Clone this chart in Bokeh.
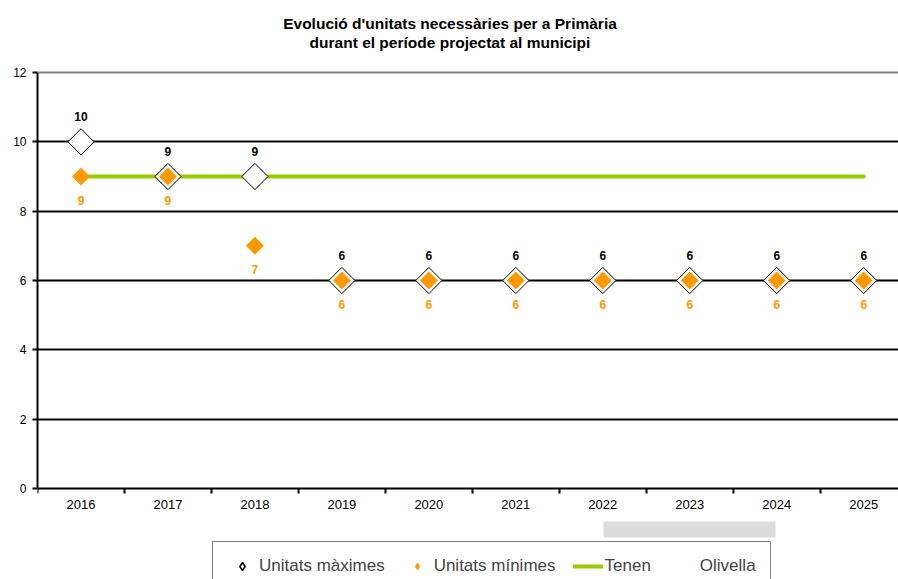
import numpy as np
from bokeh.plotting import figure
from bokeh.models import (Range1d, FixedTicker, Span, Legend, LegendItem, Label,
                          BoxAnnotation)
from bokeh.embed import file_html
from bokeh.resources import INLINE
from bokeh.core.properties import value

# ---- data ----
years = ["2016", "2017", "2018", "2019", "2020", "2021", "2022", "2023", "2024", "2025"]
max_units = [10, 9, 9, 6, 6, 6, 6, 6, 6, 6]
min_units = [9, 9, 7, 6, 6, 6, 6, 6, 6, 6]
tenen = [9, 9, 9, 9, 9, 9, 9, 9, 9, 9]
olivella = []
y_ticks = [0, 2, 4, 6, 8, 10, 12]
title_lines = ["Evolució d'unitats necessàries per a Primària",
               "durant el període projectat al municipi"]

FONT = "Liberation Sans"
ORANGE = "#ff9900"
GREEN = "#99cc00"
xs = list(range(len(years)))

# frame fills the canvas right of the y axis; the value axis spans 0..12 only
p = figure(width=898, height=579, output_backend="svg", toolbar_location=None,
           x_range=Range1d(-0.5, len(years) - 0.6),
           y_range=Range1d(-2.625, 14.077),
           min_border_left=37, min_border_right=0, min_border_top=0,
           min_border_bottom=0)
p.outline_line_color = None
p.background_fill_color = "white"
p.border_fill_color = "white"

# x axis at y = 0: labels at category centres, ticks at category boundaries
xa = p.xaxis[0]
xa.fixed_location = 0
xa.ticker = FixedTicker(ticks=xs, minor_ticks=[i - 0.5 for i in range(len(years) + 1)])
xa.major_label_overrides = {i: y for i, y in enumerate(years)}
xa.major_tick_out = 0
xa.major_tick_in = 0
xa.minor_tick_out = 5
xa.minor_tick_in = 0
xa.minor_tick_line_color = "black"
xa.minor_tick_line_width = 2
xa.axis_line_color = "black"
xa.axis_line_width = 2
xa.major_label_text_font = FONT
xa.major_label_text_font_size = "13px"
xa.major_label_text_color = "black"
xa.major_label_standoff = 6

ya = p.yaxis[0]
ya.bounds = (y_ticks[0], y_ticks[-1])
ya.ticker = FixedTicker(ticks=y_ticks)
ya.major_tick_out = 5
ya.major_tick_in = 0
ya.major_tick_line_color = "black"
ya.major_tick_line_width = 2
ya.minor_tick_out = 0
ya.minor_tick_in = 0
ya.axis_line_color = "black"
ya.axis_line_width = 2
ya.major_label_text_font = FONT
ya.major_label_text_font_size = "12px"
ya.major_label_text_color = "black"
ya.major_label_standoff = 6

p.xgrid.visible = False
p.ygrid.ticker = FixedTicker(ticks=y_ticks[1:-1])
p.ygrid.grid_line_color = "black"
p.ygrid.grid_line_width = 2
p.add_layout(Span(location=y_ticks[-1], dimension="width", line_color="#808080",
                  line_width=2))

# series
r_tenen = p.line(xs, tenen, line_color=GREEN, line_width=4, line_cap="round")
r_oli = p.line(olivella, olivella, line_alpha=0)
# legend glyph renderers (hidden beneath the main markers)
r_max_leg = p.scatter(xs, max_units, marker="diamond", size=1, fill_color="white",
                      line_color="black", line_width=1.5)
r_min_leg = p.scatter(xs, min_units, marker="diamond", size=1, fill_color=ORANGE,
                      line_color=None)
p.scatter(xs, max_units, marker="square", angle=np.pi / 4, size=18.5,
          fill_color="white", line_color="black", line_width=1)
p.scatter(xs, min_units, marker="square", angle=np.pi / 4, size=12.7,
          fill_color=ORANGE, line_color=None)

p.text(xs, max_units, text=[str(v) for v in max_units], y_offset=-25,
       text_align="center", text_baseline="middle", text_font=value(FONT),
       text_font_style="bold", text_font_size="12px", text_color="black")
p.text(xs, min_units, text=[str(v) for v in min_units], y_offset=24,
       text_align="center", text_baseline="middle", text_font=value(FONT),
       text_font_style="bold", text_font_size="12px", text_color=ORANGE)

# two-line title, centred on the page
for line, ty in [(title_lines[0], 556), (title_lines[1], 537)]:
    p.add_layout(Label(x=412.5, y=ty, x_units="screen", y_units="screen",
                       text=line, text_align="center", text_baseline="middle",
                       text_font=FONT, text_font_style="bold",
                       text_font_size="15.5px", text_color="black"))

# grey bar below axis
p.add_layout(BoxAnnotation(left=603, right=775, top=521, bottom=537,
                           left_units="canvas", right_units="canvas",
                           top_units="canvas", bottom_units="canvas",
                           fill_color="#dcdcdc", fill_alpha=1, line_color=None))

legend = Legend(items=[LegendItem(label="Unitats màximes", renderers=[r_max_leg]),
                       LegendItem(label="Unitats mínimes", renderers=[r_min_leg]),
                       LegendItem(label="Tenen", renderers=[r_tenen]),
                       LegendItem(label="Olivella", renderers=[r_oli])],
                orientation="horizontal", location=(175, -12), padding=14,
                spacing=17, glyph_width=30, glyph_height=20, label_standoff=2,
                label_text_font=FONT, label_text_font_size="17px",
                border_line_color="black", border_line_width=1.5,
                background_fill_color="white", margin=0)
p.add_layout(legend)

open("out.html", "w").write(file_html(p, INLINE))
